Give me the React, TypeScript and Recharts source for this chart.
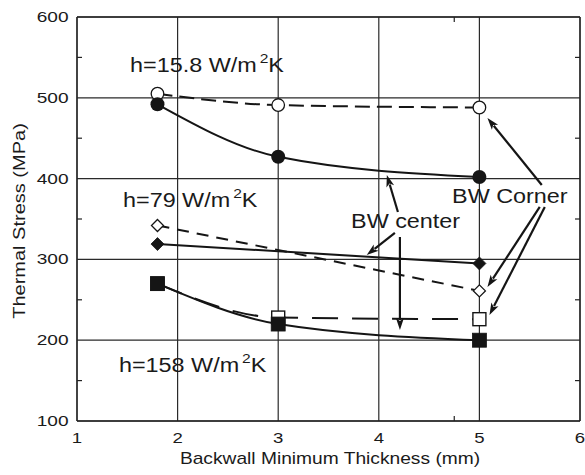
import React from 'react';
import { LineChart, Line, XAxis, YAxis, CartesianGrid, ReferenceLine, ReferenceDot } from 'recharts';

// ---- data ----
const thickness = [1.8, 3, 5];
const cornerH15 = [505, 491, 488];
const centerH15 = [492, 427, 402];
const cornerH79: (number | null)[] = [342, null, 261];
const centerH79: (number | null)[] = [319, null, 295];
const cornerH158 = [270, 228, 226];
const centerH158 = [270, 220, 200];

const xTicks = [1, 2, 3, 4, 5, 6];
const yTicks = [100, 200, 300, 400, 500, 600];
const xMinor = [1.5, 2.5, 3.5, 4.5, 5.5];
const yMinor = [150, 250, 350, 450, 550];

const xTitle = 'Backwall Minimum Thickness (mm)';
const yTitle = 'Thermal Stress (MPa)';

// annotation anchors in data units
const hLabels = [
  { x: 1.527, y: 532, main: 'h=15.8 W/m', sup: '2', tail: 'K' },
  { x: 1.457, y: 365, main: 'h=79 W/m', sup: '2', tail: 'K' },
  { x: 1.417, y: 160.6, main: 'h=158 W/m', sup: '2', tail: 'K' },
];
const bwLabels = [
  { x: 4.728, y: 369.8, text: 'BW Corner' },
  { x: 3.724, y: 338.9, text: 'BW center' },
];
const arrows = [
  { x1: 4.19, y1: 358.7, x2: 4.08, y2: 404.5 },
  { x1: 4.16, y1: 332.7, x2: 3.88, y2: 305.4 },
  { x1: 4.21, y1: 327.7, x2: 4.21, y2: 212.6 },
  { x1: 5.62, y1: 392, x2: 5.08, y2: 475 },
  { x1: 5.6, y1: 364.9, x2: 5.08, y2: 265.8 },
  { x1: 5.65, y1: 364.9, x2: 5.1, y2: 231.2 },
];

const data = thickness.map((x, i) => ({
  x,
  cH15: cornerH15[i],
  mH15: centerH15[i],
  cH79: cornerH79[i],
  mH79: centerH79[i],
  cH158: cornerH158[i],
  mH158: centerH158[i],
}));

const FONT = '"Liberation Sans", Arial, Helvetica, sans-serif';
const SX = 1.2;
const INK = '#151515';

function SText(props: any) {
  const { x, y, size, anchor = 'start', rotate = 0, sx = SX, children } = props;
  const t = `translate(${x},${y})` + (rotate ? ` rotate(${rotate})` : '') + ` scale(${sx},1)`;
  return (
    <text transform={t} x={0} y={0} fontSize={size} fontFamily={FONT} textAnchor={anchor} fill="#1a1a1a">
      {children}
    </text>
  );
}

const noTick = () => null;

const openCircle = (p: any) =>
  p.cy == null ? null : <circle key={p.key} cx={p.cx} cy={p.cy} r={6.3} fill="#fff" stroke={INK} strokeWidth={1.3} />;
const filledCircle = (p: any) =>
  p.cy == null ? null : <circle key={p.key} cx={p.cx} cy={p.cy} r={7} fill={INK} />;
const diamond = (filled: boolean, h: number) => (p: any) =>
  p.cy == null ? null : (
    <polygon
      key={p.key}
      points={`${p.cx},${p.cy - h} ${p.cx + h},${p.cy} ${p.cx},${p.cy + h} ${p.cx - h},${p.cy}`}
      fill={filled ? INK : '#fff'}
      stroke={INK}
      strokeWidth={filled ? 0.8 : 1.3}
    />
  );
const square = (filled: boolean, s: number) => (p: any) =>
  p.cy == null ? null : (
    <rect
      key={p.key}
      x={p.cx - s / 2}
      y={p.cy - s / 2}
      width={s}
      height={s}
      fill={filled ? INK : '#fff'}
      stroke={INK}
      strokeWidth={filled ? 0.8 : 1.4}
    />
  );

const arrowShape = (p: any) => {
  const { x1, y1, x2, y2 } = p;
  const dx = x2 - x1;
  const dy = y2 - y1;
  const len = Math.sqrt(dx * dx + dy * dy) || 1;
  const ux = dx / len;
  const uy = dy / len;
  const hl = 12;
  const hw = 4;
  const bx = x2 - ux * hl;
  const by = y2 - uy * hl;
  const lx = x2 - ux * (hl - 2);
  const ly = y2 - uy * (hl - 2);
  return (
    <g>
      <line x1={x1} y1={y1} x2={lx} y2={ly} stroke={INK} strokeWidth={2.2} />
      <polygon
        points={`${x2},${y2} ${bx - uy * hw},${by + ux * hw} ${x2 - ux * (hl - 3)},${y2 - uy * (hl - 3)} ${bx + uy * hw},${by - ux * hw}`}
        fill={INK}
      />
    </g>
  );
};

export default function App() {
  return (
    <div style={{ position: 'absolute', left: 0, top: 0, background: '#fff' }}>
      <LineChart width={585} height={475} data={data} margin={{ top: 17, right: 5, left: 0, bottom: 0 }}>
        <CartesianGrid stroke="#2a2a2a" strokeWidth={1.2} />
        <XAxis
          dataKey="x"
          type="number"
          domain={[1, 6]}
          ticks={xTicks}
          allowDataOverflow
          height={54}
          tickLine={false}
          tickSize={0}
          tickMargin={0}
          axisLine={{ stroke: '#222', strokeWidth: 1.3 }}
          tick={(p: any) => (
            <SText x={p.x} y={p.y + 22} size={15.5} anchor="middle">
              {p.payload.value}
            </SText>
          )}
          label={{
            content: (lp: any) => {
              const vb = lp.viewBox || { x: 77, y: 421, width: 503, height: 54 };
              return (
                <SText x={vb.x + vb.width / 2 + 1.5} y={vb.y + 43} size={16} anchor="middle">
                  {xTitle}
                </SText>
              );
            },
          }}
        />
        <YAxis
          type="number"
          domain={[100, 600]}
          ticks={yTicks}
          allowDataOverflow
          width={77}
          tickLine={false}
          tickSize={0}
          tickMargin={8.5}
          axisLine={{ stroke: '#222', strokeWidth: 1.3 }}
          tick={(p: any) => (
            <SText x={p.x} y={p.y + 5} size={15.5} anchor="end" sx={1.23}>
              {p.payload.value}
            </SText>
          )}
          label={{
            content: (lp: any) => {
              const vb = lp.viewBox || { x: 0, y: 17, width: 77, height: 404 };
              return (
                <SText x={vb.x + 25} y={vb.y + vb.height / 2 + 2} size={16} anchor="middle" rotate={-90} sx={1.25}>
                  {yTitle}
                </SText>
              );
            },
          }}
        />
        {/* minor ticks, pointing inward */}
        <XAxis
          xAxisId="mb"
          type="number"
          domain={[1, 6]}
          ticks={xMinor}
          allowDataOverflow
          orientation="bottom"
          mirror
          axisLine={false}
          tickLine={{ stroke: '#222', strokeWidth: 1.2 }}
          tickSize={5}
          tick={noTick}
        />
        <XAxis
          xAxisId="mt"
          type="number"
          domain={[1, 6]}
          ticks={xMinor}
          allowDataOverflow
          orientation="top"
          mirror
          axisLine={{ stroke: '#222', strokeWidth: 1.3 }}
          tickLine={{ stroke: '#222', strokeWidth: 1.2 }}
          tickSize={5}
          tick={noTick}
        />
        <YAxis
          yAxisId="ml"
          type="number"
          domain={[100, 600]}
          ticks={yMinor}
          allowDataOverflow
          orientation="left"
          mirror
          axisLine={false}
          tickLine={{ stroke: '#222', strokeWidth: 1.2 }}
          tickSize={5}
          tick={noTick}
        />
        <YAxis
          yAxisId="mr"
          type="number"
          domain={[100, 600]}
          ticks={yMinor}
          allowDataOverflow
          orientation="right"
          mirror
          axisLine={{ stroke: '#222', strokeWidth: 1.3 }}
          tickLine={{ stroke: '#222', strokeWidth: 1.2 }}
          tickSize={5}
          tick={noTick}
        />

        {/* BW corner series (dashed, open markers) */}
        <Line dataKey="cH15" type="monotone" stroke={INK} strokeWidth={2} strokeDasharray="15 7" dot={openCircle} activeDot={false} isAnimationActive={false} connectNulls />
        <Line dataKey="cH79" type="monotone" stroke={INK} strokeWidth={2} strokeDasharray="12 8" dot={diamond(false, 6)} activeDot={false} isAnimationActive={false} connectNulls />
        <Line dataKey="cH158" type="monotone" stroke={INK} strokeWidth={2} strokeDasharray="26 14" dot={square(false, 13)} activeDot={false} isAnimationActive={false} connectNulls />

        {/* BW center series (solid, filled markers) */}
        <Line dataKey="mH15" type="monotone" stroke={INK} strokeWidth={2} dot={filledCircle} activeDot={false} isAnimationActive={false} connectNulls />
        <Line dataKey="mH79" type="monotone" stroke={INK} strokeWidth={2} dot={diamond(true, 6.5)} activeDot={false} isAnimationActive={false} connectNulls />
        <Line dataKey="mH158" type="monotone" stroke={INK} strokeWidth={2} dot={square(true, 14)} activeDot={false} isAnimationActive={false} connectNulls />

        {arrows.map((a, i) => (
          <ReferenceLine
            key={`ar${i}`}
            segment={[
              { x: a.x1, y: a.y1 },
              { x: a.x2, y: a.y2 },
            ]}
            shape={arrowShape}
            ifOverflow="visible"
          />
        ))}

        {hLabels.map((l, i) => (
          <ReferenceDot
            key={`hl${i}`}
            x={l.x}
            y={l.y}
            r={0}
            ifOverflow="visible"
            shape={(p: any) => (
              <text
                transform={`translate(${p.cx},${p.cy}) scale(1.2,1)`}
                x={0}
                y={0}
                fontSize={19.5}
                fontFamily={FONT}
                fill="#1a1a1a"
              >
                {l.main}
                <tspan dx={2.5} dy={-9} fontSize={13}>
                  {l.sup}
                </tspan>
                <tspan dy={9}>{l.tail}</tspan>
              </text>
            )}
          />
        ))}
        {bwLabels.map((l, i) => (
          <ReferenceDot
            key={`bw${i}`}
            x={l.x}
            y={l.y}
            r={0}
            ifOverflow="visible"
            shape={(p: any) => (
              <SText x={p.cx} y={p.cy} size={19.5}>
                {l.text}
              </SText>
            )}
          />
        ))}
      </LineChart>
    </div>
  );
}
